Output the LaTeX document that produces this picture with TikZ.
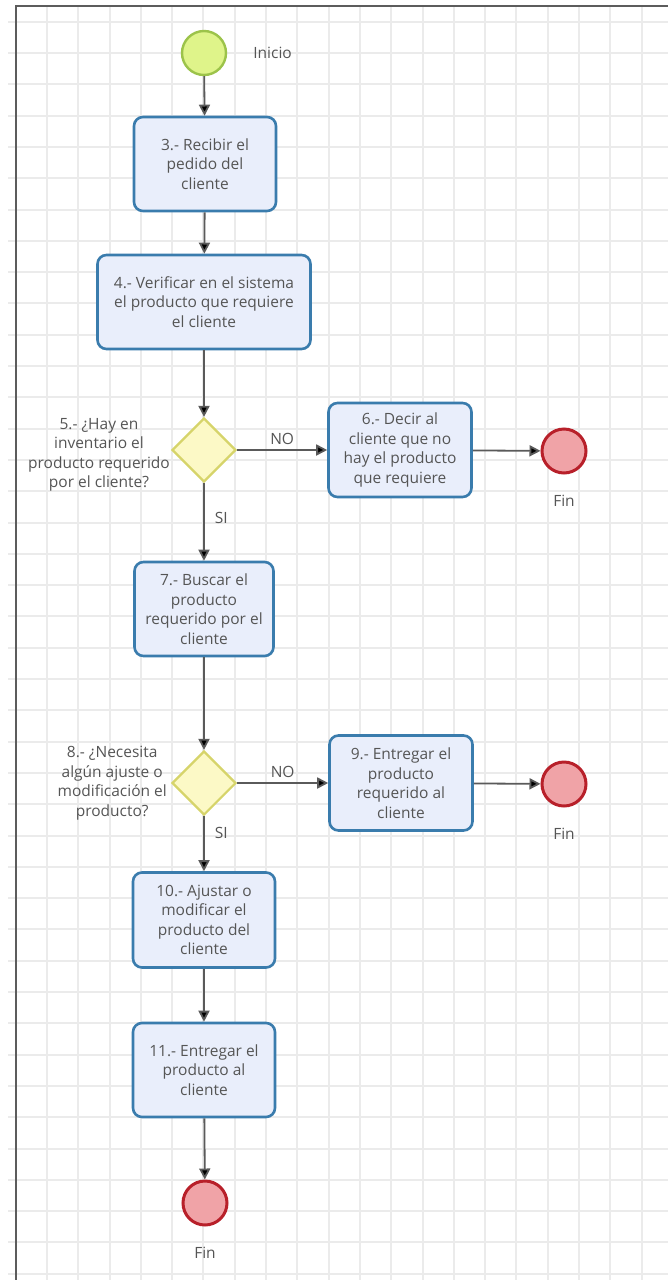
\documentclass[tikz,border=0pt]{standalone}
\usepackage{fontspec}
\setmainfont{Open Sans}
\usepackage{xcolor}
\usepackage{tikz}
\usetikzlibrary{positioning, arrows.meta, shapes.geometric}
\definecolor{gridgray}{HTML}{EBEBEB}
\definecolor{framegray}{HTML}{5C5C5C}
\definecolor{flowgray}{HTML}{5A5A5A}
\definecolor{textgray}{HTML}{555555}
\definecolor{taskfill}{HTML}{E9EEFB}
\definecolor{taskline}{HTML}{3A7CAD}
\definecolor{gatefill}{HTML}{FCF9C6}
\definecolor{gateline}{HTML}{D6D46A}
\definecolor{startfill}{HTML}{DFF48A}
\definecolor{startline}{HTML}{9CC34A}
\definecolor{endfill}{HTML}{F0A3A7}
\definecolor{endline}{HTML}{B8202A}

\tikzset{
  task/.style={draw=taskline, fill=taskfill, line width=2.6pt, rounded corners=9pt,
               minimum width=142pt, minimum height=94pt, align=center, inner sep=4pt,
               text=textgray, font=\fontsize{15.5}{19.5}\selectfont},
  gateway/.style={diamond, draw=gateline, fill=gatefill, line width=2.2pt,
                  minimum width=64pt, minimum height=64pt, inner sep=0pt},
  startev/.style={circle, draw=startline, fill=startfill, line width=2.4pt,
                  minimum size=44pt, inner sep=0pt},
  endev/.style={circle, draw=endline, fill=endfill, line width=3pt,
                minimum size=44pt, inner sep=0pt},
  lbl/.style={text=textgray, align=center, inner sep=2pt, font=\fontsize{15.5}{19.5}\selectfont},
  flow/.style={draw=flowgray, line width=1.8pt, -{Triangle[length=11pt, width=11pt, fill=black]}},
  gridline/.style={draw=gridgray, line width=2pt}
}

\begin{document}
\begin{tikzpicture}[x=1pt, y=-1pt]
  \useasboundingbox (0,0) rectangle (668,1280);
  \fill[white] (0,0) rectangle (668,1280);

  % background grid
  \foreach \k in {1,...,20}
    \draw[gridline] ({round(15.6+31.3*\k)},6) -- ({round(15.6+31.3*\k)},1280);
  \foreach \k in {0,...,40}
    \draw[gridline] (8,{round(21.7+31.3*\k)}) -- (668,{round(21.7+31.3*\k)});
  \draw[framegray, line width=2.4pt] (668,6) -- (16,6) -- (16,1280);

  % main column
  \node[startev] (inicio) at (204,53) {};
  \node[lbl, right=24pt of inicio] (inicioLbl) {Inicio};

  \node[task] (recibir) at (205,164) {3.- Recibir el\\pedido del\\cliente};
  \node[task, minimum width=213pt] (verificar) at (204,302)
    {4.- Verificar en el sistema\\el producto que requiere\\el cliente};

  \node[gateway] (hayInv) at (204,450) {};
  \node[lbl, anchor=east] (hayInvLbl) at (172,455)
    {5.- ¿Hay en\\inventario el\\producto requerido\\por el cliente?};
  \node[task, minimum width=143pt] (decir) at (400,450)
    {6.- Decir al\\cliente que no\\hay el producto\\que requiere};
  \node[endev] (fin1) at (564,451) {};
  \node[lbl, below=18pt of fin1] (fin1Lbl) {Fin};

  \node[task, minimum width=139pt] (buscar) at (204,609)
    {7.- Buscar el\\producto\\requerido por el\\cliente};

  \node[gateway] (ajuste) at (204,783) {};
  \node[lbl, anchor=east] (ajusteLbl) at (169,783)
    {8.- ¿Necesita\\algún ajuste o\\modificación el\\producto?};
  \node[task, minimum width=143pt, minimum height=95pt] (entregarReq) at (401,783)
    {9.- Entregar el\\producto\\requerido al\\cliente};
  \node[endev] (fin2) at (564,784) {};
  \node[lbl, below=18pt of fin2] (fin2Lbl) {Fin};

  \node[task, minimum height=95pt] (modificar) at (204,920)
    {10.- Ajustar o\\modificar el\\producto del\\cliente};
  \node[task] (entregar) at (204,1070) {11.- Entregar el\\producto al\\cliente};
  \node[endev] (fin3) at (205,1203) {};
  \node[lbl, below=18pt of fin3] (fin3Lbl) {Fin};

  % sequence flows
  \draw[flow] (inicio) -- (recibir);
  \draw[flow] (recibir) -- (verificar);
  \draw[flow] (verificar) -- (hayInv);
  \draw[flow] (hayInv) -- node[lbl, above=2pt] {NO} (decir);
  \draw[flow] (decir) -- (fin1);
  \draw[flow] (hayInv) -- node[lbl, right=8pt, pos=0.45] {SI} (buscar);
  \draw[flow] (buscar) -- (ajuste);
  \draw[flow] (ajuste) -- node[lbl, above=2pt] {NO} (entregarReq);
  \draw[flow] (entregarReq) -- (fin2);
  \draw[flow] (ajuste) -- node[lbl, right=8pt, pos=0.3] {SI} (modificar);
  \draw[flow] (modificar) -- (entregar);
  \draw[flow] (entregar) -- (fin3);
\end{tikzpicture}
\end{document}
